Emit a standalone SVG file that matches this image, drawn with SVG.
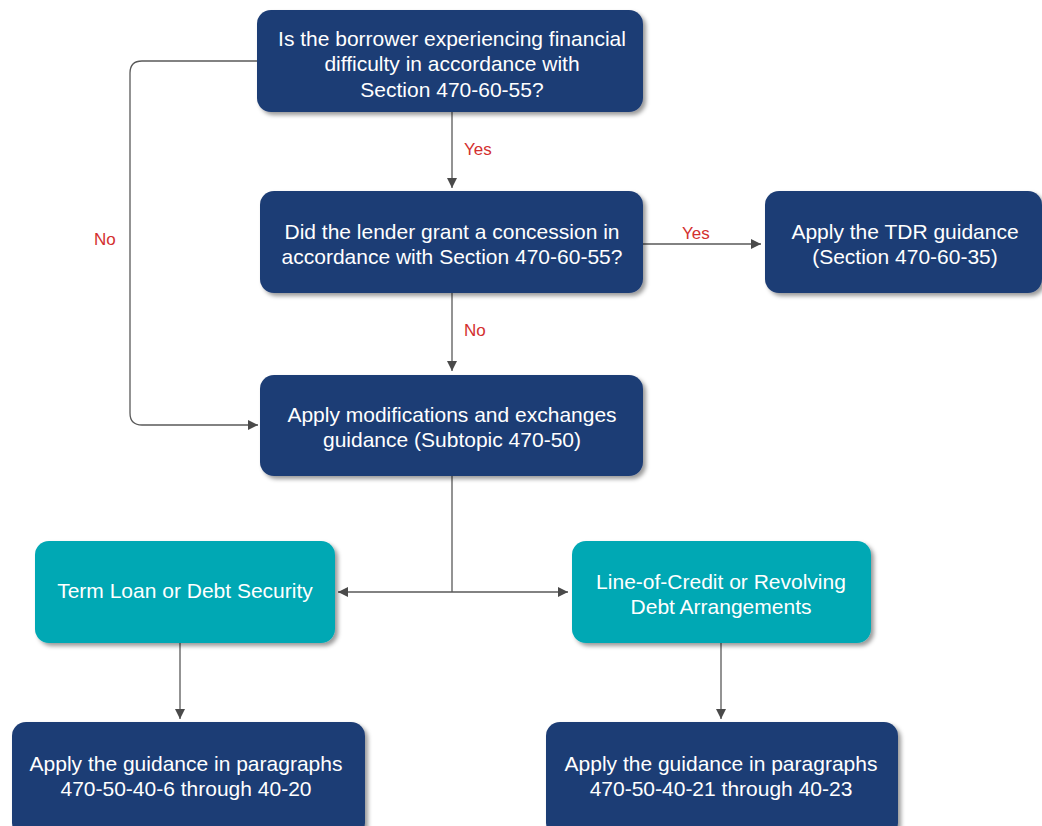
<svg xmlns="http://www.w3.org/2000/svg" width="1042" height="826" viewBox="0 0 1042 826">
<style>
.navy{fill:#1F3E75}
.teal{fill:#00A8B4}
.t{font-family:"Liberation Sans",Arial,sans-serif;font-size:21px;fill:#fff;text-anchor:middle}
.lbl{font-family:"Liberation Sans",Arial,sans-serif;font-size:17px;fill:#D3302F}
.c{fill:none;stroke:#595959;stroke-width:1.3}
</style>
<defs>
<filter id="sh" x="-10%" y="-10%" width="125%" height="130%">
<feDropShadow dx="3" dy="3" stdDeviation="2" flood-color="#000" flood-opacity="0.4"/>
</filter>
<marker id="ah" viewBox="0 0 10 10" refX="10" refY="5" markerWidth="10" markerHeight="10" markerUnits="userSpaceOnUse" orient="auto">
<path d="M0,0 L10,5 L0,10 z" fill="#4a4a4a"/>
</marker>
</defs>
<rect width="1042" height="826" fill="#fff"/>
<g id="connectors">
<path class="c" d="M257,61 H142 Q130,61 130,73 V413 Q130,425 142,425 H258" marker-end="url(#ah)"/>
<path class="c" d="M452,112 V188" marker-end="url(#ah)"/>
<path class="c" d="M643,244 H761" marker-end="url(#ah)"/>
<path class="c" d="M452,293 V371" marker-end="url(#ah)"/>
<path class="c" d="M452,476 V592"/>
<path class="c" d="M452,592 H338" marker-end="url(#ah)"/>
<path class="c" d="M452,592 H568" marker-end="url(#ah)"/>
<path class="c" d="M180,643 V719" marker-end="url(#ah)"/>
<path class="c" d="M721,643 V719" marker-end="url(#ah)"/>
<text class="lbl" x="464" y="155">Yes</text>
<text class="lbl" x="682" y="239">Yes</text>
<text class="lbl" x="464" y="336">No</text>
<text class="lbl" x="94" y="245">No</text>
</g>
<g id="n1">
<rect class="navy" x="257" y="10" width="386" height="102" rx="14" filter="url(#sh)"/>
<text class="t" x="452" y="46">Is the borrower experiencing financial</text>
<text class="t" x="452" y="71">difficulty in accordance with</text>
<text class="t" x="452" y="97">Section 470-60-55?</text>
</g>
<g id="n2">
<rect class="navy" x="260" y="191" width="383" height="102" rx="14" filter="url(#sh)"/>
<text class="t" x="452" y="239">Did the lender grant a concession in</text>
<text class="t" x="452" y="264">accordance with Section 470-60-55?</text>
</g>
<g id="n3">
<rect class="navy" x="765" y="191" width="277" height="102" rx="14" filter="url(#sh)"/>
<text class="t" x="905" y="239">Apply the TDR guidance</text>
<text class="t" x="905" y="264">(Section 470-60-35)</text>
</g>
<g id="n4">
<rect class="navy" x="260" y="375" width="383" height="101" rx="14" filter="url(#sh)"/>
<text class="t" x="452" y="422">Apply modifications and exchanges</text>
<text class="t" x="452" y="447">guidance (Subtopic 470-50)</text>
</g>
<g id="n5">
<rect class="teal" x="35" y="541" width="300" height="102" rx="14" filter="url(#sh)"/>
<text class="t" x="185" y="598">Term Loan or Debt Security</text>
</g>
<g id="n6">
<rect class="teal" x="572" y="541" width="299" height="102" rx="14" filter="url(#sh)"/>
<text class="t" x="721" y="589">Line-of-Credit or Revolving</text>
<text class="t" x="721" y="614">Debt Arrangements</text>
</g>
<g id="n7">
<rect class="navy" x="12" y="722" width="353" height="115" rx="14" filter="url(#sh)"/>
<text class="t" x="186" y="771">Apply the guidance in paragraphs</text>
<text class="t" x="186" y="796">470-50-40-6 through 40-20</text>
</g>
<g id="n8">
<rect class="navy" x="546" y="722" width="352" height="115" rx="14" filter="url(#sh)"/>
<text class="t" x="721" y="771">Apply the guidance in paragraphs</text>
<text class="t" x="721" y="796">470-50-40-21 through 40-23</text>
</g>
</svg>
